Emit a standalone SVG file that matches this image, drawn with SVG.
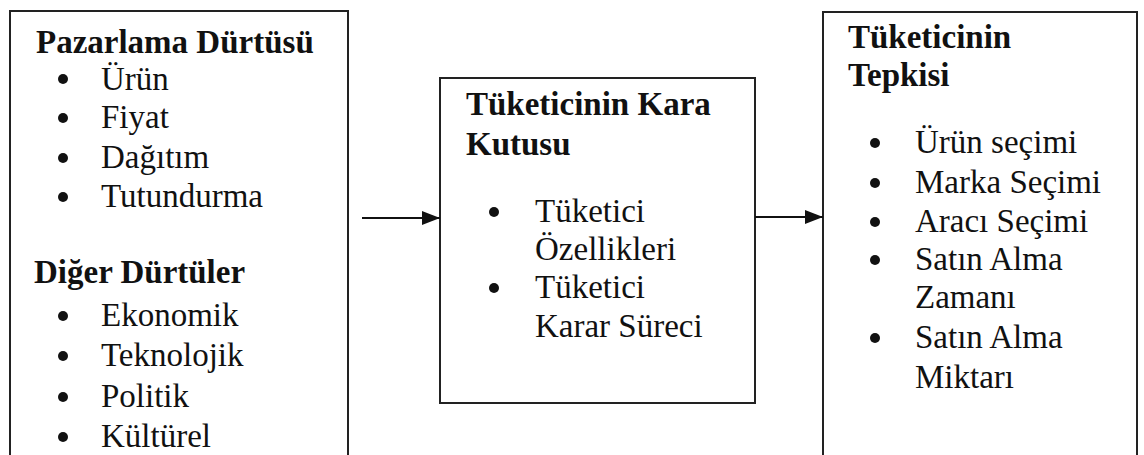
<svg xmlns="http://www.w3.org/2000/svg" width="1144" height="455" viewBox="0 0 1144 455">
<style>
.box{fill:#fff;stroke:#222;stroke-width:2}
.t{font-family:"Liberation Serif","Times New Roman",serif;font-size:33px;fill:#111}
.b{font-weight:bold}
.dot{fill:#111}
.conn{stroke:#111;stroke-width:2;fill:none}
</style>
<defs>
<marker id="ah" markerWidth="18" markerHeight="14" refX="18" refY="7" orient="auto" markerUnits="userSpaceOnUse">
<path d="M0,0 L18,7 L0,14 Z" fill="#111"/>
</marker>
</defs>
<rect width="1144" height="455" fill="#fff"/>
<g id="stimuli">
<rect class="box" x="10" y="11" width="338" height="460"/>
<text class="t b" x="36" y="53">Pazarlama Dürtüsü</text>
<circle class="dot" cx="63" cy="79" r="5"/><text class="t" x="101" y="90">Ürün</text>
<circle class="dot" cx="63" cy="118" r="5"/><text class="t" x="101" y="128">Fiyat</text>
<circle class="dot" cx="63" cy="158" r="5"/><text class="t" x="101" y="168">Dağıtım</text>
<circle class="dot" cx="63" cy="197" r="5"/><text class="t" x="101" y="207">Tutundurma</text>
<text class="t b" x="34" y="283">Diğer Dürtüler</text>
<circle class="dot" cx="63" cy="316" r="5"/><text class="t" x="101" y="326">Ekonomik</text>
<circle class="dot" cx="63" cy="356" r="5"/><text class="t" x="101" y="366">Teknolojik</text>
<circle class="dot" cx="63" cy="397" r="5"/><text class="t" x="101" y="407">Politik</text>
<circle class="dot" cx="63" cy="437" r="5"/><text class="t" x="101" y="447">Kültürel</text>
</g>
<g id="blackbox">
<rect class="box" x="440" y="78" width="315" height="325"/>
<text class="t b" x="466" y="115">Tüketicinin Kara</text>
<text class="t b" x="466" y="155">Kutusu</text>
<circle class="dot" cx="494" cy="212" r="5"/><text class="t" x="535" y="222">Tüketici</text>
<text class="t" x="535" y="260">Özellikleri</text>
<circle class="dot" cx="494" cy="288" r="5"/><text class="t" x="535" y="298">Tüketici</text>
<text class="t" x="535" y="337">Karar Süreci</text>
</g>
<g id="response">
<rect class="box" x="823" y="12" width="314" height="460"/>
<text class="t b" x="848" y="48">Tüketicinin</text>
<text class="t b" x="848" y="86">Tepkisi</text>
<circle class="dot" cx="875" cy="143" r="5"/><text class="t" x="915" y="153">Ürün seçimi</text>
<circle class="dot" cx="875" cy="183" r="5"/><text class="t" x="915" y="193">Marka Seçimi</text>
<circle class="dot" cx="875" cy="222" r="5"/><text class="t" x="915" y="232">Aracı Seçimi</text>
<circle class="dot" cx="875" cy="260" r="5"/><text class="t" x="915" y="270">Satın Alma</text>
<text class="t" x="915" y="308">Zamanı</text>
<circle class="dot" cx="875" cy="338" r="5"/><text class="t" x="915" y="348">Satın Alma</text>
<text class="t" x="915" y="388">Miktarı</text>
</g>
<g id="connectors">
<line class="conn" x1="362" y1="218" x2="440" y2="218" marker-end="url(#ah)"/>
<line class="conn" x1="755" y1="217" x2="823" y2="217" marker-end="url(#ah)"/>
</g>
</svg>
